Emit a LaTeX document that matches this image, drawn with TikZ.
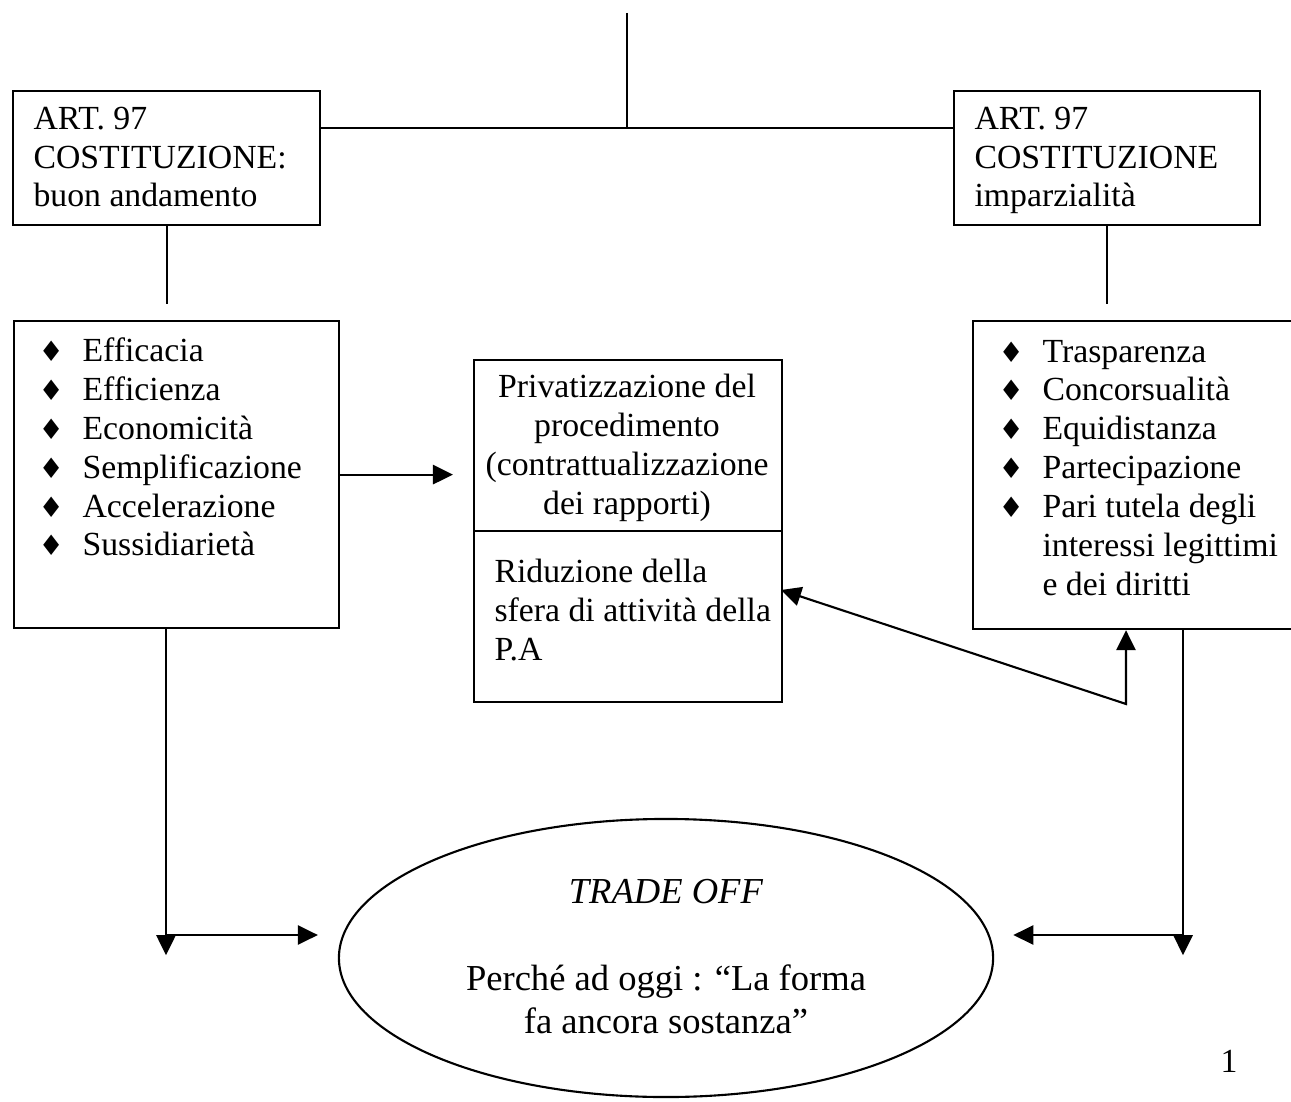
\documentclass[tikz,border=0pt]{standalone}
\usepackage{fontspec}
\setmainfont{Liberation Serif}
\newfontfamily\diamfont{DejaVu Sans}
\usetikzlibrary{arrows.meta,positioning,shapes.geometric,calc}
\newcommand{\bul}{\makebox[0.55cm][l]{\diamfont\fontsize{10}{10}\selectfont ♦}}
\newcommand{\ind}{\makebox[0.55cm][l]{}}

\begin{document}
\begin{tikzpicture}[x=0.0125cm, y=-0.0125cm,
    box/.style={draw, line width=0.75pt, inner sep=0pt, anchor=north west},
    txt/.style={anchor=base west, inner sep=0pt, align=left, font=\fontsize{12}{13.8}\selectfont},
    ctxt/.style={anchor=base, inner sep=0pt, align=center, font=\fontsize{12}{13.8}\selectfont},
    ln/.style={line width=0.75pt},
    arr/.style={-{Triangle[length=2.5mm, width=2.4mm]}, line width=0.75pt},
    dblarr/.style={{Triangle[length=2.5mm, width=2.4mm]}-{Triangle[length=2.5mm, width=2.4mm]}, line width=0.75pt}
]
\useasboundingbox (0,0) rectangle (1291,1102);

% boxes
\node[box, minimum width=3.8375cm, minimum height=1.675cm] (artl) at (12,90) {};
\node[box, minimum width=3.825cm, minimum height=1.675cm] (artr) at (953,90) {};
\node[box, minimum width=4.0625cm, minimum height=3.8375cm] (listl) at (13,320) {};
\node[box, minimum width=4.35cm, minimum height=3.85cm] (listr) at (972,320) {};
\node[box, minimum width=3.85cm, minimum height=4.275cm] (mid) at (473,359) {};
\node[ellipse, draw, line width=0.75pt, minimum width=8.175cm, minimum height=3.475cm] (trade) at (666,958) {};

% texts (base = last line)
\node[txt] (artltxt) at (33,207) {ART. 97\\COSTITUZIONE:\\buon andamento};
\node[txt] (artrtxt) at (974,207) {ART. 97\\COSTITUZIONE\\imparzialità};
\node[txt] (listltxt) at (38,556) {\bul Efficacia\\\bul Efficienza\\\bul Economicità\\
  \bul Semplificazione\\\bul Accelerazione\\\bul Sussidiarietà};
\node[txt] (listrtxt) at (998,595) {\bul Trasparenza\\\bul Concorsualità\\\bul Equidistanza\\
  \bul Partecipazione\\\bul Pari tutela degli\\\ind interessi legittimi\\\ind e dei diritti};
\node[ctxt] (midtop) at (627,514) {Privatizzazione del\\procedimento\\(contrattualizzazione\\dei rapporti)};
\node[txt] (midbot) at (494,660) {Riduzione della\\sfera di attività della\\P.A};
\node[ctxt, font=\fontsize{13}{14.95}\selectfont] (tradetxt) at (666,1033)
  {\textit{TRADE OFF}\\[16pt]Perché ad oggi : “La forma\\fa ancora sostanza”};
\node[ctxt] (pagenum) at (1229,1072) {1};

% connectors
\coordinate (top) at (627,13);
\coordinate (hub) at (627,128);
\coordinate (split) at (627,531);
\coordinate (bend) at (1126,704);
\coordinate (midin) at (781,590);
\coordinate (jl) at (166,935);
\coordinate (jr) at (1183,935);
\draw[ln] (top) -- (hub);
\draw[ln] (artl.east |- hub) -- (artr.west |- hub);
\draw[ln] (mid.west |- split) -- (mid.east |- split);
\draw[ln] (artl.south) -- ++(0,78);
\draw[ln] (artr.south) -- ++(0,78);
\draw[arr, shorten >=0.25cm] (listl.east) -- (listl.east -| mid.west);
\draw[dblarr] (midin) -- (bend) -- (listr.south -| bend);
\draw[arr] (listl.south -| jl) -- ++(0,326);
\draw[arr] (listr.south -| jr) -- ++(0,325);
\draw[arr, shorten >=0.25cm] (jl) -- (trade.west |- jl);
\draw[arr, shorten >=0.24cm] (jr) -- (trade.east |- jr);
\end{tikzpicture}
\end{document}
